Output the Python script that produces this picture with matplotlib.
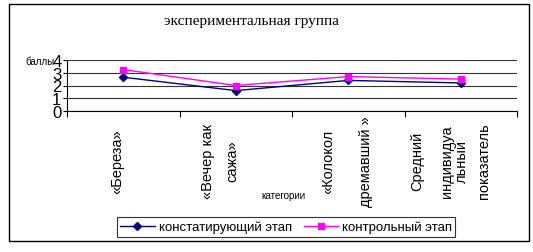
import matplotlib
matplotlib.use("Agg")
import matplotlib.pyplot as plt
from matplotlib.patches import Rectangle
from matplotlib.lines import Line2D
import numpy as np

plt.rcParams['font.family'] = ['Liberation Sans', 'DejaVu Sans']

# data
categories = ['«Береза»', '«Вечер как сажа»', '«Колокол дремавший »', 'Средний индивидуальный показатель']
# each category label as Excel wrapped it: (line text, x offset from category centre)
label_lines = [
    [('«Береза»', -0.05)],
    [('«Вечер как', -0.25), ('сажа»', -0.03)],
    [('«Колокол', -0.18), ('дремавший »', 0.16)],
    [('Средний', -0.39), ('индивидуа', -0.12), ('льный', 0.01), ('показатель', 0.21)],
]
stage1 = [2.65, 1.6, 2.4, 2.2]   # констатирующий этап
stage2 = [3.25, 2.0, 2.7, 2.5]   # контрольный этап
yticks = [0, 1, 2, 3, 4]

fig = plt.figure(figsize=(5.33, 2.53), dpi=100)
fig.patches.append(Rectangle((9 / 533, 1 - 242 / 253), 520 / 533, 237 / 253,
                             transform=fig.transFigure, fill=False,
                             edgecolor='black', linewidth=1.0))

ax = fig.add_axes([67 / 533, 1 - 112 / 253, 450 / 533, 51 / 253])
x = np.arange(len(categories)) + 0.5

ax.plot(x, stage1, color='#000080', marker='D', markersize=4, linewidth=1.0)
ax.plot(x, stage2, color='#FF00FF', marker='s', markersize=5, linewidth=1.0)

ax.set_xlim(0, len(categories))
ax.set_ylim(0, 4)
ax.set_yticks(yticks)
ax.set_yticklabels([str(v) for v in yticks], fontsize=12)
ax.set_xticks(np.arange(len(categories) + 1))
ax.set_xticklabels([])
ax.tick_params(axis='y', length=3, pad=1, width=0.8)
ax.tick_params(axis='x', length=4, width=0.8)
for yv in yticks:
    ax.axhline(yv, color='#333333', linewidth=0.8, zorder=0)
for s in ['top', 'right']:
    ax.spines[s].set_visible(False)
ax.spines['left'].set_linewidth(0.8)
ax.spines['bottom'].set_linewidth(0.8)

trans = ax.get_xaxis_transform()
for i, lines in enumerate(label_lines):
    for txt, off in lines:
        ax.text(x[i] + off, -0.97, txt, rotation=90, transform=trans,
                ha='center', va='center', fontsize=10.5)

fig.text(251 / 533, 1 - 22 / 253, 'экспериментальная группа',
         family='Liberation Serif', fontsize=11, ha='center', va='center')
fig.text(25 / 533, 1 - 62 / 253, 'баллы', fontsize=7, ha='left', va='center')
fig.text(283 / 533, 1 - 196 / 253, 'категории', fontsize=7, ha='center', va='center')

handles = [Line2D([], [], color='#000080', marker='D', markersize=4, linewidth=1.0),
           Line2D([], [], color='#FF00FF', marker='s', markersize=5, linewidth=1.0)]
leg = fig.legend(handles, ['констатирующий этап', 'контрольный этап'],
                 loc='center', bbox_to_anchor=(286 / 533, 1 - 228 / 253),
                 ncol=2, fontsize=9.5, frameon=True, fancybox=False,
                 edgecolor='black', handlelength=2.6, columnspacing=0.9,
                 borderpad=0.25, handletextpad=0.3, borderaxespad=0)
leg.get_frame().set_linewidth(0.8)

fig.savefig('out.png', dpi=100)
